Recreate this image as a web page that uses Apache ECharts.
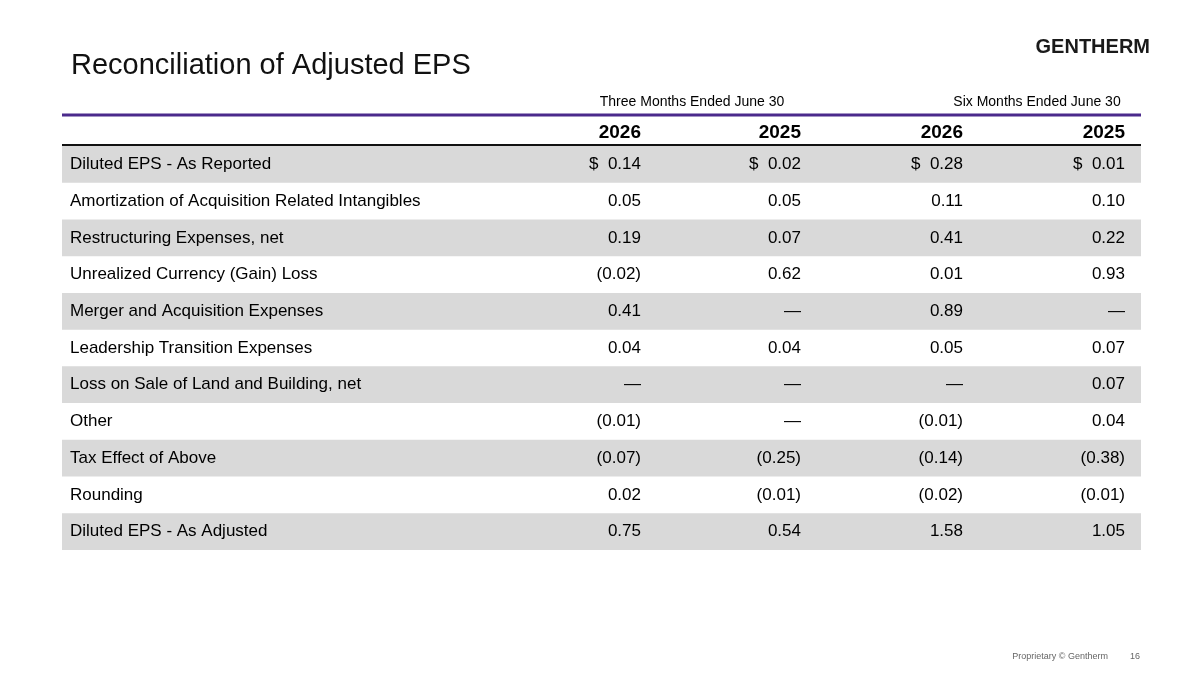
<!DOCTYPE html>
<html>
<head>
<meta charset="utf-8">
<script src="https://cdn.jsdelivr.net/npm/echarts@6.0.0/dist/echarts.min.js"></script>
<style>
  html, body { margin: 0; padding: 0; background: #fff; }
  #chart { width: 1200px; height: 675px; }
</style>
</head>
<body>
<div id="chart"></div>
<script>
// ---- table data ----
const rowLabels = [
  'Diluted EPS - As Reported',
  'Amortization of Acquisition Related Intangibles',
  'Restructuring Expenses, net',
  'Unrealized Currency (Gain) Loss',
  'Merger and Acquisition Expenses',
  'Leadership Transition Expenses',
  'Loss on Sale of Land and Building, net',
  'Other',
  'Tax Effect of Above',
  'Rounding',
  'Diluted EPS - As Adjusted'
];
const periodHeaders = ['Three Months Ended June 30', 'Six Months Ended June 30'];
const yearHeaders = ['2026', '2025', '2026', '2025'];
const q2026 = ['$  0.14', '0.05', '0.19', '(0.02)', '0.41', '0.04', '—', '(0.01)', '(0.07)', '0.02', '0.75'];
const q2025 = ['$  0.02', '0.05', '0.07', '0.62', '—', '0.04', '—', '—', '(0.25)', '(0.01)', '0.54'];
const h2026 = ['$  0.28', '0.11', '0.41', '0.01', '0.89', '0.05', '—', '(0.01)', '(0.14)', '(0.02)', '1.58'];
const h2025 = ['$  0.01', '0.10', '0.22', '0.93', '—', '0.07', '0.07', '0.04', '(0.38)', '(0.01)', '1.05'];

// column right edges in axis units (table width 1079)
const colEdges = [579, 739, 901, 1063];
const TABLE_W = 1079;
const FONT = 'Arial';

const chart = echarts.init(document.getElementById('chart'));

const cellLabel = (pos) => ({
  show: true, position: pos, distance: 0,
  formatter: p => p.data.text,
  color: '#000', opacity: 1, fontSize: 17, fontFamily: FONT, fontWeight: 'normal'
});

const columns = [q2026, q2025, h2026, h2025];
const numberSeries = columns.map((col, c) => ({
  type: 'scatter',
  symbolSize: 0,
  silent: true,
  data: col.map((v, i) => ({ value: [colEdges[c], i], text: v })),
  label: cellLabel('left')
}));

chart.setOption({
  animation: false,
  backgroundColor: '#fff',
  textStyle: { fontFamily: FONT },
  title: {
    text: 'Reconciliation of Adjusted EPS',
    left: 66, top: 46,
    textStyle: { fontFamily: FONT, fontSize: 29, fontWeight: 'normal', color: '#111' }
  },
  grid: { left: 62, right: 59, top: 146, bottom: 125 },
  xAxis: { type: 'value', min: 0, max: TABLE_W, show: false },
  yAxis: { type: 'category', data: rowLabels, inverse: true, show: false },
  series: [
    {
      type: 'bar',
      silent: true,
      barWidth: '100%',
      data: rowLabels.map((_, i) => ({
        value: TABLE_W,
        itemStyle: { color: i % 2 === 0 ? '#D9D9D9' : 'rgba(0,0,0,0)' }
      }))
    },
    {
      type: 'scatter',
      symbolSize: 0,
      silent: true,
      data: rowLabels.map((l, i) => ({ value: [8, i], text: l })),
      label: cellLabel('right')
    },
    ...numberSeries
  ],
  graphic: [
    { type: 'text', right: 50, top: 37,
      style: { text: 'GENTHERM', font: 'bold 20px ' + FONT, fill: '#1a1a1a', letterSpacing: 3 } },
    { type: 'text', x: 692, y: 102,
      style: { text: periodHeaders[0], font: '14px ' + FONT, fill: '#000', align: 'center', verticalAlign: 'middle' } },
    { type: 'text', x: 1037, y: 102,
      style: { text: periodHeaders[1], font: '14px ' + FONT, fill: '#000', align: 'center', verticalAlign: 'middle' } },
    { type: 'line', shape: { x1: 62, y1: 115, x2: 1141, y2: 115 },
      style: { stroke: '#4B2A8C', lineWidth: 3 } },
    ...yearHeaders.map((t, c) => ({
      type: 'text', x: 62 + colEdges[c], y: 133,
      style: { text: t, font: 'bold 19px ' + FONT, fill: '#000', align: 'right', verticalAlign: 'middle' }
    })),
    { type: 'line', shape: { x1: 62, y1: 145, x2: 1141, y2: 145 },
      style: { stroke: '#111', lineWidth: 2 } },
    { type: 'text', x: 1108, y: 657,
      style: { text: 'Proprietary © Gentherm', font: '9px ' + FONT, fill: '#666', align: 'right', verticalAlign: 'middle' } },
    { type: 'text', x: 1140, y: 657,
      style: { text: '16', font: '9px ' + FONT, fill: '#666', align: 'right', verticalAlign: 'middle' } }
  ]
});
</script>
</body>
</html>
